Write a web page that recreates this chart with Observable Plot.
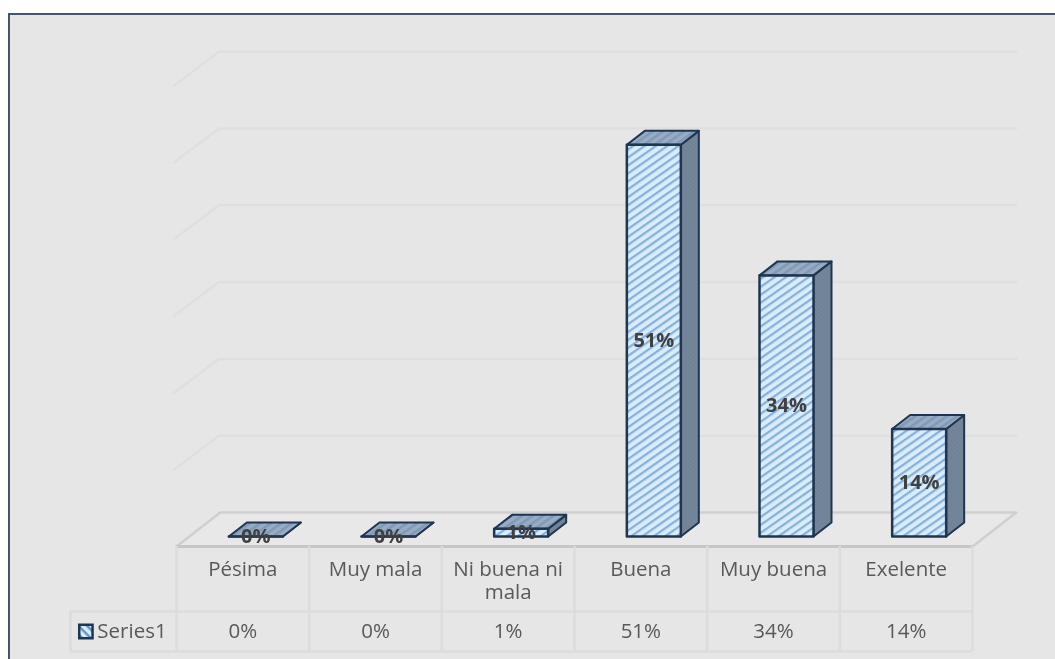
<!DOCTYPE html>
<html><head><meta charset="utf-8">
<script src="https://cdn.jsdelivr.net/npm/d3@7"></script>
<script src="https://cdn.jsdelivr.net/npm/@observablehq/plot@0.6"></script>
<style>
html,body{margin:0;padding:0;background:#fff;overflow:hidden}
#frame{position:absolute;left:8px;top:13px;width:1100px;height:700px;background:#e6e6e6;border:2px solid #44546a}
#chart{position:absolute;left:0;top:0}
#chart svg{display:block;background:transparent;filter:blur(0.45px)}
</style></head><body>
<div id="frame"></div><div id="chart"></div>
<script>
const categories = ["Pésima","Muy mala","Ni buena ni\nmala","Buena","Muy buena","Exelente"];
const values = [0,0,1,51,34,14];
const valueLabels = ["0%","0%","1%","51%","34%","14%"];
const gridValues = [10,20,30,40,50,60];
const seriesName = "Series1";

// geometry in scale units (x: table columns, y: percent)
const barShift=0.098, barHalf=0.2035, depthX=0.1357, depthY=1.82;
const floorFront=-1.3, wallY=3.125, wallX=0.33, wallRight=6.33;
const rowMid=-9.77, rowBottom=-14.97, headCol=-0.80;

const faces = (fn)=>values.flatMap((v,i)=>fn(v,i+0.5+barShift).map(p=>({x:p[0],y:p[1],z:i})));
const close = a=>[...a,a[0]];
const front = faces((v,c)=>close([[c-barHalf,0],[c+barHalf,0],[c+barHalf,v],[c-barHalf,v]]));
const top_ = faces((v,c)=>close([[c-barHalf,v],[c+barHalf,v],[c+barHalf+depthX,v+depthY],[c-barHalf+depthX,v+depthY]]));
const side = faces((v,c)=>close([[c+barHalf,0],[c+barHalf+depthX,depthY],[c+barHalf+depthX,v+depthY],[c+barHalf,v]]));
const grid = gridValues.flatMap(v=>[[-0.02,v+floorFront],[wallX-0.01,v+wallY],[wallRight,v+wallY]].map(p=>({x:p[0],y:p[1],z:v})));
const floor = close([[0,floorFront],[6,floorFront],[wallRight,wallY],[wallX,wallY]]).map(p=>({x:p[0],y:p[1]}));
const cols = d3.range(7);
const ink="#1f3550", grey="#dcdcdc", txt="#595959";
const font="'Open Sans',sans-serif";
const fs=20.5;

const chart = Plot.plot({
  width:1055,height:659,margin:0,
  x:{type:"linear",domain:[0,6],range:[176,972],axis:null},
  y:{type:"linear",domain:[0,60],range:[536,75.2],axis:null},
  style:{background:"transparent",fontFamily:font},
  marks:[
    Plot.line(grid,{x:"x",y:"y",z:"z",stroke:"#dfdfdf",strokeWidth:2.5}),
    Plot.line(floor,{x:"x",y:"y",fill:"#e8e8e8",stroke:"#cfcfcf",strokeWidth:2.5}),
    Plot.ruleY([floorFront],{x1:0,x2:6,stroke:"#c6c6c6",strokeWidth:3}),
    // data table
    Plot.ruleX(cols,{y1:floorFront,y2:rowBottom,stroke:grey,strokeWidth:2.5}),
    Plot.ruleY([rowMid,rowBottom],{x1:headCol,x2:6,stroke:grey,strokeWidth:2.5}),
    Plot.ruleX([headCol],{y1:rowMid,y2:rowBottom,stroke:grey,strokeWidth:2.5}),
    Plot.text(categories,{x:(d,i)=>i+0.5,y:floorFront-1.75,text:d=>d,lineAnchor:"top",fontSize:fs,lineHeight:1.12,fill:txt}),
    Plot.text(valueLabels,{x:(d,i)=>i+0.5,y:(rowMid+rowBottom)/2,text:d=>d,fontSize:fs,fill:txt}),
    Plot.text([seriesName],{x:headCol+0.2035,y:(rowMid+rowBottom)/2,text:d=>d,textAnchor:"start",fontSize:fs,fill:txt}),
    Plot.dot([seriesName],{x:headCol+0.117,y:(rowMid+rowBottom)/2,symbol:"square",r:7.5,fill:"url(#keyHatch)",stroke:ink,strokeWidth:2.5}),
    // bars
    Plot.line(side,{x:"x",y:"y",z:"z",fill:"url(#sideHatch)",stroke:ink,strokeWidth:2,strokeLinejoin:"round"}),
    Plot.line(top_,{x:"x",y:"y",z:"z",fill:"url(#topHatch)",stroke:ink,strokeWidth:2,strokeLinejoin:"round"}),
    Plot.line(front,{x:"x",y:"y",z:"z",fill:"url(#frontHatch)",stroke:ink,strokeWidth:2.5,strokeLinejoin:"round"}),
    Plot.text(valueLabels,{x:(d,i)=>i+0.5+barShift,y:(d,i)=>values[i]/2,text:d=>d,fontSize:20,fontWeight:"bold",fill:"#404040"})
  ]
});
const defs = d3.select(chart).insert("defs",":first-child");
function hatch(id,bg,fg,period,w,angle){
  const p=defs.append("pattern").attr("id",id).attr("patternUnits","userSpaceOnUse")
    .attr("width",period).attr("height",period).attr("patternTransform",`rotate(${angle})`);
  p.append("rect").attr("width",period).attr("height",period).attr("fill",bg);
  p.append("rect").attr("width",period).attr("height",w).attr("fill",fg);
}
hatch("frontHatch","#d8ecfc","#86b0dc",6.5,2.2,-35);
hatch("topHatch","#97adc6","#8199b5",6,2.5,-35);
hatch("sideHatch","#6f8195","#75879b",3,1.5,45);
hatch("keyHatch","#d8ecfc","#5f93cc",6,2.4,45);
document.getElementById("chart").appendChild(chart);
</script></body></html>
